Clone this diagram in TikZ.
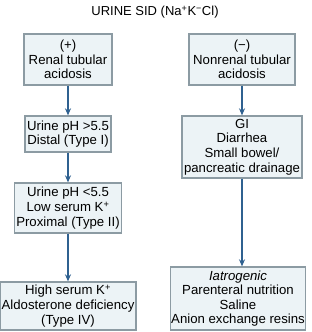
\documentclass[tikz,border=0pt]{standalone}
\usepackage{fontspec}
\setmainfont{Liberation Sans}
\usepackage{xcolor}
\definecolor{boxfill}{RGB}{236,243,246}
\definecolor{boxline}{RGB}{140,155,163}
\definecolor{flow}{RGB}{47,97,144}
\usetikzlibrary{arrows.meta}
\tikzset{
  box/.style={rectangle,draw=boxline,line width=1.3pt,fill=boxfill,
              minimum width=#1,align=center,inner sep=1pt,
              font=\fontsize{13.2}{14.6}\selectfont},
  box/.default=90pt,
  arrow/.style={-{Stealth[length=7pt,width=6pt]},line width=1.5pt,flow},
}
\begin{document}
\begin{tikzpicture}[x=1pt,y=-1pt]
    \useasboundingbox (0,0) rectangle (311,332);

    % Title
    \node[font=\fontsize{13}{14.6}\selectfont] (title) at (155,12)
        {URINE SID (Na\textsuperscript{+}K\textsuperscript{−}Cl)};

    % Left column
    \node[box=88pt,minimum height=51pt] (rta) at (68,59.5)
        {(+)\\Renal tubular\\acidosis};
    \node[box=86pt,minimum height=36pt] (distal) at (68,134)
        {Urine pH >5.5\\Distal (Type I)};
    \node[box=107pt,minimum height=50pt] (proximal) at (68,208)
        {Urine pH <5.5\\Low serum K\textsuperscript{+}\\Proximal (Type II)};
    \node[box=136pt,minimum height=48pt] (typefour) at (68,306)
        {High serum K\textsuperscript{+}\\Aldosterone deficiency\\(Type IV)};

    % Right column
    \node[box=106pt,minimum height=51pt] (nonrta) at (242,59.5)
        {(−)\\Nonrenal tubular\\acidosis};
    \node[box=120pt,minimum height=62pt] (gi) at (242,147)
        {GI\\Diarrhea\\Small bowel/\\pancreatic drainage};
    \node[box=128pt,minimum height=63pt] (iatro) at (238,298.5)
        {\textit{Iatrogenic}\\Parenteral nutrition\\Saline\\Anion exchange resins};

    \draw[arrow] (rta.south) -- (distal.north);
    \draw[arrow] (distal.south) -- (proximal.north);
    \draw[arrow] (proximal.south) -- (typefour.north);
    \draw[arrow] (nonrta.south) -- (gi.north);
    \draw[arrow] (gi.south) -- (gi.south |- iatro.north);

  \end{tikzpicture}
\end{document}
